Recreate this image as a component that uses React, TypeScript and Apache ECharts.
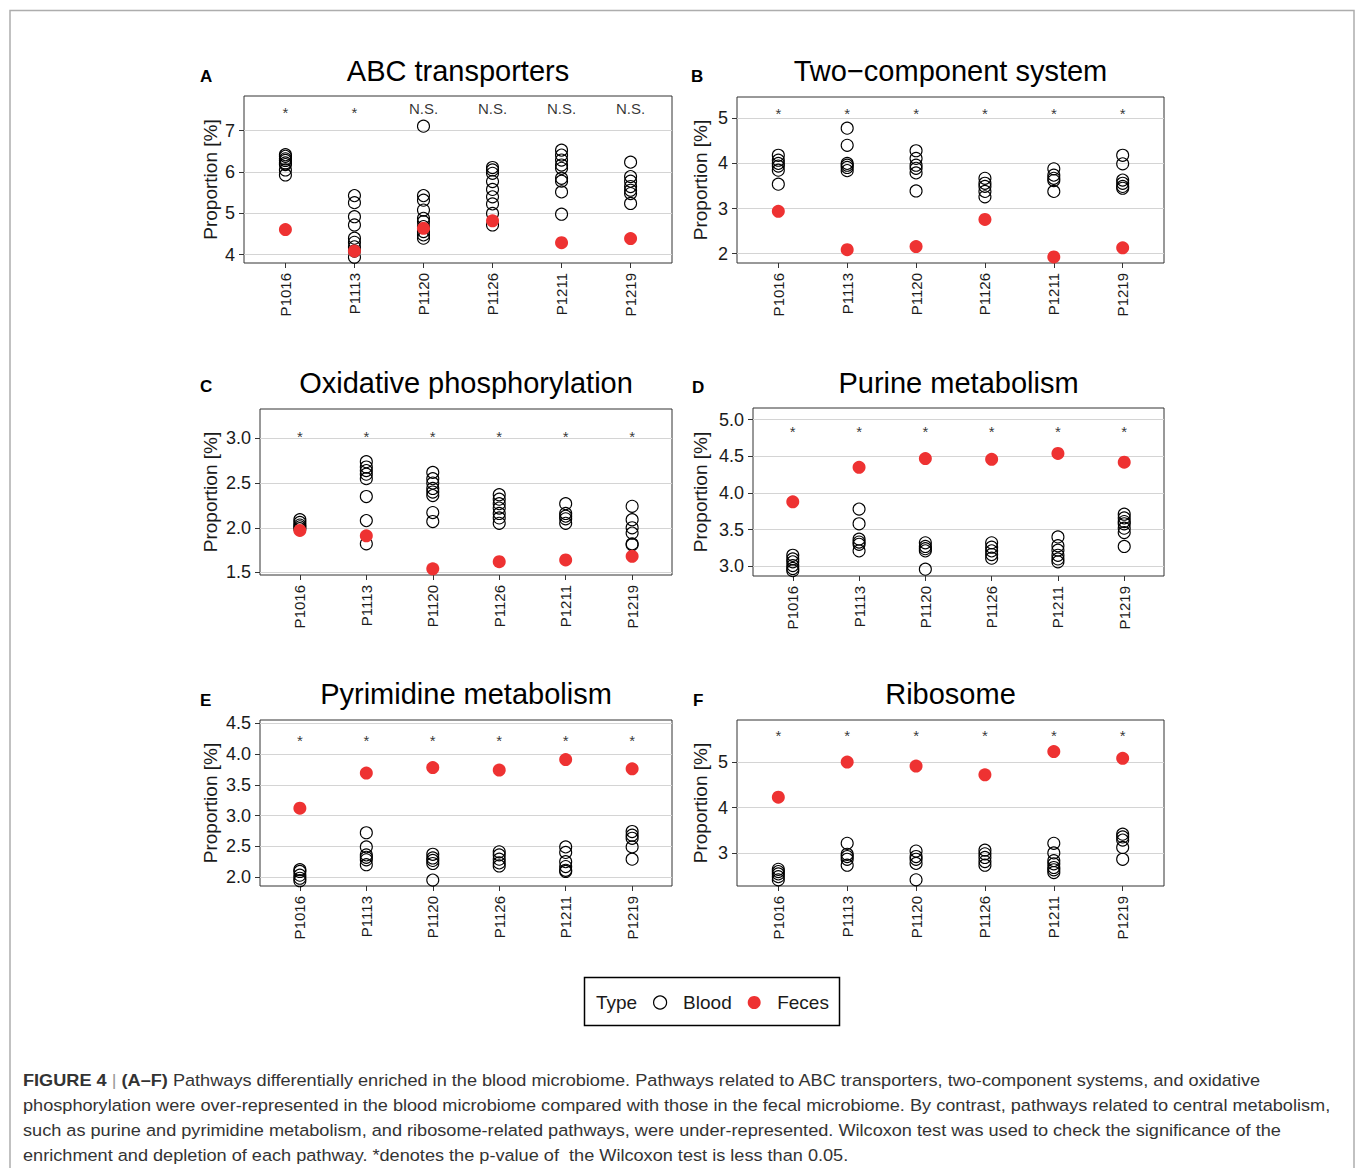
import React, { useEffect, useRef } from 'react';
import * as echarts from 'echarts';

// ---------------- DATA ----------------
const patients = ['P1016', 'P1113', 'P1120', 'P1126', 'P1211', 'P1219'];
const legendTitle = 'Type';
const bloodName = 'Blood';
const fecesName = 'Feces';

// A: ABC transporters
const abcTitle = 'ABC transporters';
const abcBlood = [
  [6.42, 6.38, 6.32, 6.28, 6.22, 6.18, 6.05, 5.93],
  [5.43, 5.26, 4.92, 4.72, 4.4, 4.3, 4.19, 4.09, 3.94],
  [7.11, 5.43, 5.32, 5.08, 4.88, 4.8, 4.68, 4.56, 4.48, 4.4],
  [6.11, 6.05, 5.97, 5.77, 5.58, 5.4, 5.23, 5.0, 4.72],
  [6.53, 6.41, 6.29, 6.17, 6.09, 5.85, 5.78, 5.52, 4.98],
  [6.24, 5.89, 5.78, 5.65, 5.56, 5.48, 5.24],
];
const abcFeces = [4.61, 4.09, 4.64, 4.82, 4.29, 4.39];
const abcSig = ['*', '*', 'N.S.', 'N.S.', 'N.S.', 'N.S.'];
const abcTicks = [4, 5, 6, 7];

// B: Two-component system
const tcsTitle = 'Two\u2212component system';
const tcsBlood = [
  [4.18, 4.07, 4.0, 3.94, 3.85, 3.54],
  [4.78, 4.4, 4.0, 3.96, 3.91, 3.84],
  [4.28, 4.11, 3.96, 3.89, 3.79, 3.39],
  [3.67, 3.56, 3.49, 3.38, 3.26],
  [3.88, 3.74, 3.67, 3.62, 3.38],
  [4.18, 3.99, 3.63, 3.56, 3.49, 3.45],
];
const tcsFeces = [2.94, 2.09, 2.16, 2.76, 1.93, 2.13];
const tcsSig = ['*', '*', '*', '*', '*', '*'];
const tcsTicks = [2, 3, 4, 5];

// C: Oxidative phosphorylation
const oxTitle = 'Oxidative phosphorylation';
const oxBlood = [
  [2.09, 2.06, 2.03, 2.01, 1.99],
  [2.74, 2.68, 2.64, 2.6, 2.55, 2.35, 2.08, 1.82],
  [2.62, 2.55, 2.5, 2.44, 2.4, 2.36, 2.17, 2.07],
  [2.37, 2.32, 2.27, 2.22, 2.16, 2.11, 2.05],
  [2.27, 2.16, 2.13, 2.1, 2.05],
  [2.24, 2.09, 2.0, 1.94, 1.82, 1.81],
];
const oxFeces = [1.97, 1.91, 1.54, 1.62, 1.64, 1.68];
const oxSig = ['*', '*', '*', '*', '*', '*'];
const oxTicks = [1.5, 2.0, 2.5, 3.0];

// D: Purine metabolism
const purTitle = 'Purine metabolism';
const purBlood = [
  [3.15, 3.1, 3.06, 3.01, 2.97, 2.94],
  [3.78, 3.58, 3.37, 3.33, 3.3, 3.21],
  [3.32, 3.27, 3.24, 3.21, 2.96],
  [3.32, 3.26, 3.21, 3.16, 3.11],
  [3.4, 3.28, 3.22, 3.15, 3.1, 3.06],
  [3.71, 3.66, 3.61, 3.58, 3.52, 3.46, 3.27],
];
const purFeces = [3.88, 4.35, 4.47, 4.46, 4.54, 4.42];
const purSig = ['*', '*', '*', '*', '*', '*'];
const purTicks = [3.0, 3.5, 4.0, 4.5, 5.0];

// E: Pyrimidine metabolism
const pyrTitle = 'Pyrimidine metabolism';
const pyrBlood = [
  [2.12, 2.09, 2.03, 1.98, 1.94],
  [2.72, 2.49, 2.36, 2.32, 2.28, 2.2],
  [2.37, 2.31, 2.27, 2.22, 1.95],
  [2.41, 2.36, 2.29, 2.23, 2.18],
  [2.49, 2.4, 2.25, 2.17, 2.11, 2.09],
  [2.74, 2.68, 2.63, 2.49, 2.29],
];
const pyrFeces = [3.12, 3.69, 3.78, 3.74, 3.91, 3.76];
const pyrSig = ['*', '*', '*', '*', '*', '*'];
const pyrTicks = [2.0, 2.5, 3.0, 3.5, 4.0, 4.5];

// F: Ribosome
const ribTitle = 'Ribosome';
const ribBlood = [
  [2.65, 2.6, 2.55, 2.49, 2.42],
  [3.22, 2.98, 2.93, 2.87, 2.74],
  [3.05, 2.93, 2.87, 2.78, 2.42],
  [3.07, 2.99, 2.91, 2.82, 2.74],
  [3.22, 3.01, 2.84, 2.77, 2.69, 2.64, 2.58],
  [3.42, 3.36, 3.29, 3.13, 2.87],
];
const ribFeces = [4.23, 5.0, 4.91, 4.72, 5.23, 5.08];
const ribSig = ['*', '*', '*', '*', '*', '*'];
const ribTicks = [3, 4, 5];

const captionLines = [
  '{b|FIGURE 4} {bar||} {b|(A\u2013F)} Pathways differentially enriched in the blood microbiome. Pathways related to ABC transporters, two-component systems, and oxidative',
  'phosphorylation were over-represented in the blood microbiome compared with those in the fecal microbiome. By contrast, pathways related to central metabolism,',
  'such as purine and pyrimidine metabolism, and ribosome-related pathways, were under-represented. Wilcoxon test was used to check the significance of the',
  'enrichment and depletion of each pathway. *denotes the p-value of  the Wilcoxon test is less than 0.05.',
];

// ---------------- LAYOUT ----------------
const FONT = '"Liberation Sans", Arial, Helvetica, sans-serif';
const RED = '#EE3232';
const TEXT = '#1a1a1a';

const panels = [
  { letter: 'A', title: abcTitle, blood: abcBlood, feces: abcFeces, sig: abcSig, ticks: abcTicks, dec: 0, min: 3.8, max: 7.84, sigY: 7.54,
    left: 244, top: 96, width: 428, height: 167, letterX: 200, letterY: 76 },
  { letter: 'B', title: tcsTitle, blood: tcsBlood, feces: tcsFeces, sig: tcsSig, ticks: tcsTicks, dec: 0, min: 1.795, max: 5.47, sigY: 5.19,
    left: 737, top: 97, width: 427, height: 166, letterX: 691, letterY: 76 },
  { letter: 'C', title: oxTitle, blood: oxBlood, feces: oxFeces, sig: oxSig, ticks: oxTicks, dec: 1, min: 1.471, max: 3.33, sigY: 3.07,
    left: 260, top: 409, width: 412, height: 166, letterX: 200, letterY: 386 },
  { letter: 'D', title: purTitle, blood: purBlood, feces: purFeces, sig: purSig, ticks: purTicks, dec: 1, min: 2.867, max: 5.16, sigY: 4.89,
    left: 753, top: 408, width: 411, height: 168, letterX: 692, letterY: 387 },
  { letter: 'E', title: pyrTitle, blood: pyrBlood, feces: pyrFeces, sig: pyrSig, ticks: pyrTicks, dec: 1, min: 1.854, max: 4.554, sigY: 4.29,
    left: 260, top: 720, width: 412, height: 166, letterX: 200, letterY: 700 },
  { letter: 'F', title: ribTitle, blood: ribBlood, feces: ribFeces, sig: ribSig, ticks: ribTicks, dec: 0, min: 2.285, max: 5.92, sigY: 5.66,
    left: 737, top: 720, width: 427, height: 166, letterX: 693, letterY: 700 },
];

const titleY = [71, 71, 383, 383, 694, 694];
const xIdx = patients.map((_, i) => i);

function buildOption() {
  const grid: any[] = [];
  const xAxis: any[] = [];
  const yAxis: any[] = [];
  const series: any[] = [];
  const graphic: any[] = [];

  graphic.push({
    type: 'rect', shape: { x: 10, y: 10.5, width: 1344, height: 1200 },
    style: { fill: 'none', stroke: '#adadad', lineWidth: 1.5 }, silent: true,
  });

  panels.forEach((p, k) => {
    grid.push({
      left: p.left, top: p.top, width: p.width, height: p.height,
      show: true, borderColor: '#333', borderWidth: 1, backgroundColor: '#fff',
    });
    xAxis.push({
      gridIndex: k, type: 'value', min: -0.6, max: 5.6, position: 'bottom',
      axisLine: { show: false, onZero: false },
      splitLine: { show: false },
      axisTick: { show: true, length: 5, customValues: xIdx, lineStyle: { color: '#333' } },
      axisLabel: {
        customValues: xIdx, rotate: 90, margin: 10, fontSize: 15, color: TEXT, fontFamily: FONT,
        formatter: (v: number) => patients[Math.round(v)],
      },
    });
    yAxis.push({
      gridIndex: k, type: 'value', min: p.min, max: p.max, position: 'left',
      axisLine: { show: false, onZero: false },
      axisTick: { show: true, length: 5, customValues: p.ticks, lineStyle: { color: '#333' } },
      axisLabel: {
        customValues: p.ticks, margin: 9, fontSize: 18, color: TEXT, fontFamily: FONT,
        formatter: (v: number) => v.toFixed(p.dec),
      },
      splitLine: { show: true, lineStyle: { color: '#d4d4d4', width: 1 } },
    });
    const bloodData: number[][] = [];
    p.blood.forEach((vals, i) => vals.forEach((v) => bloodData.push([i, v])));
    series.push({
      type: 'scatter', name: bloodName, xAxisIndex: k, yAxisIndex: k,
      data: bloodData, symbol: 'circle', symbolSize: 12,
      itemStyle: { color: 'rgba(255,255,255,0)', borderColor: '#000', borderWidth: 1.1, opacity: 1 },
      emphasis: { disabled: true }, silent: true,
    });
    series.push({
      type: 'scatter', name: fecesName, xAxisIndex: k, yAxisIndex: k,
      data: p.feces.map((v, i) => [i, v]), symbol: 'circle', symbolSize: 13,
      itemStyle: { color: RED, opacity: 1 },
      emphasis: { disabled: true }, silent: true,
    });
    series.push({
      type: 'scatter', name: 'significance', xAxisIndex: k, yAxisIndex: k,
      data: p.sig.map((s, i) => ({ value: [i, p.sigY], label: { offset: s === '*' ? [0, 4] : [0, 0] } })),
      symbol: 'circle', symbolSize: 1, itemStyle: { color: 'rgba(0,0,0,0)' },
      label: {
        show: true, position: 'inside', fontSize: 15, color: '#000', fontFamily: FONT,
        textBorderWidth: 0,
        formatter: (prm: any) => p.sig[prm.dataIndex],
      },
      emphasis: { disabled: true }, silent: true,
    });

    graphic.push({
      type: 'text', x: p.left + p.width / 2, y: titleY[k], silent: true,
      style: { text: p.title, fontSize: 29, fontFamily: FONT, fill: '#000', align: 'center', verticalAlign: 'middle' },
    });
    graphic.push({
      type: 'text', x: p.letterX, y: p.letterY, silent: true,
      style: { text: p.letter, fontSize: 17, fontWeight: 'bold', fontFamily: FONT, fill: '#000', align: 'left', verticalAlign: 'middle' },
    });
    graphic.push({
      type: 'text', x: p.left < 500 ? 210 : 700, y: p.top + p.height / 2, rotation: Math.PI / 2, silent: true,
      style: { text: 'Proportion [%]', fontSize: 19, fontFamily: FONT, fill: TEXT, align: 'center', verticalAlign: 'middle' },
    });
  });

  // legend box
  graphic.push({
    type: 'rect', shape: { x: 584.5, y: 977.5, width: 255, height: 48 },
    style: { fill: '#fff', stroke: '#000', lineWidth: 1.5 }, silent: true, z: -1,
  });
  graphic.push({
    type: 'text', x: 596, y: 1002, silent: true,
    style: { text: legendTitle, fontSize: 19, fontFamily: FONT, fill: TEXT, align: 'left', verticalAlign: 'middle' },
  });

  captionLines.forEach((line, i) => {
    graphic.push({
      type: 'text', x: 23, y: 1080 + i * 25, scaleX: 1.1, silent: true,
      style: {
        text: line, fontSize: 16.5, fontFamily: FONT, fill: '#333', align: 'left', verticalAlign: 'middle',
        rich: {
          b: { fontSize: 16.5, fontWeight: 'bold', fontFamily: FONT, fill: '#333' },
          bar: { fontSize: 16.5, fontFamily: FONT, fill: '#999' },
        },
      },
    });
  });

  return {
    animation: false,
    backgroundColor: '#fff',
    grid, xAxis, yAxis, series, graphic,
    legend: {
      data: [
        { name: bloodName, itemStyle: { borderWidth: 1.2, borderColor: '#000', color: 'rgba(255,255,255,0)' } },
        { name: fecesName, itemStyle: { color: RED, borderWidth: 0 } },
      ],
      left: 653, top: 993, padding: 0,
      itemWidth: 36, itemHeight: 13, itemGap: 16,
      selectedMode: false,
      textStyle: { fontSize: 19, fontFamily: FONT, color: TEXT },
    },
  };
}

export default function App() {
  const ref = useRef<HTMLDivElement>(null);
  useEffect(() => {
    if (!ref.current) return;
    const chart = echarts.init(ref.current, undefined, { renderer: 'svg' });
    chart.setOption(buildOption() as any);
    return () => chart.dispose();
  }, []);
  return (
    <div
      ref={ref}
      style={{ position: 'absolute', left: 0, top: 0, width: 1355, height: 1168, background: '#fff' }}
    />
  );
}
